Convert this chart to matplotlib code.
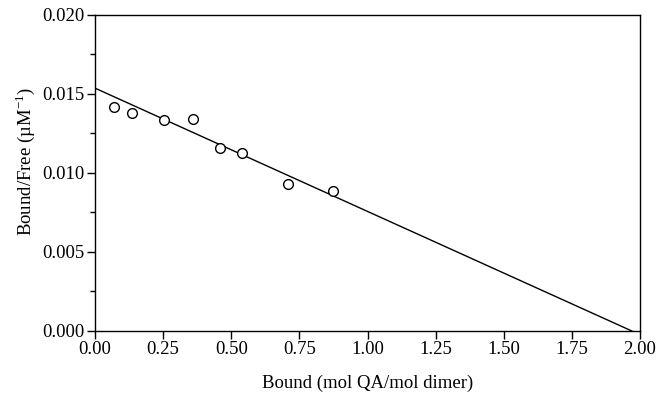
import matplotlib
matplotlib.use("Agg")
import matplotlib.pyplot as plt
from matplotlib.ticker import MultipleLocator

# Scatchard data
bound = [0.071, 0.137, 0.254, 0.361, 0.460, 0.539, 0.708, 0.872]
bound_free = [0.01420, 0.01378, 0.01338, 0.01344, 0.01157, 0.01129, 0.00932, 0.00884]

# linear fit end points
fit_x = [0.0, 1.97]
fit_y = [0.01537, 0.0]

plt.rcParams.update({"font.family": ["Liberation Serif", "DejaVu Serif"],
                     "font.size": 13, "mathtext.fontset": "custom",
                     "mathtext.rm": "Liberation Serif"})

fig = plt.figure(figsize=(6.65, 4.01), dpi=100)
ax = fig.add_axes([0.1429, 0.1746, 0.8195, 0.788])

ax.plot(fit_x, fit_y, color="black", lw=1.0)
ax.plot(bound, bound_free, "o", ms=7, mfc="white", mec="black", mew=1.0)

ax.set_xlim(0, 2.0)
ax.set_ylim(0, 0.020)
ax.xaxis.set_major_locator(MultipleLocator(0.25))
ax.yaxis.set_major_locator(MultipleLocator(0.005))
ax.yaxis.set_minor_locator(MultipleLocator(0.0025))
ax.xaxis.set_major_formatter(lambda v, p: f"{v:.2f}")
ax.yaxis.set_major_formatter(lambda v, p: f"{v:.3f}")

ax.tick_params(axis="both", which="major", direction="out", length=5.5,
               width=1.0, labelsize=13.5, pad=2)
ax.tick_params(axis="y", which="minor", direction="out", length=3.5, width=1.0)
for s in ax.spines.values():
    s.set_linewidth(1.0)

ax.set_xlabel("Bound (mol QA/mol dimer)", fontsize=13.5, labelpad=12)
ax.set_ylabel("Bound/Free (µM$^{\\mathrm{-1}}$)", fontsize=13.5)
ax.yaxis.set_label_coords(-0.106, 0.536)

fig.savefig("out.png", dpi=100)
